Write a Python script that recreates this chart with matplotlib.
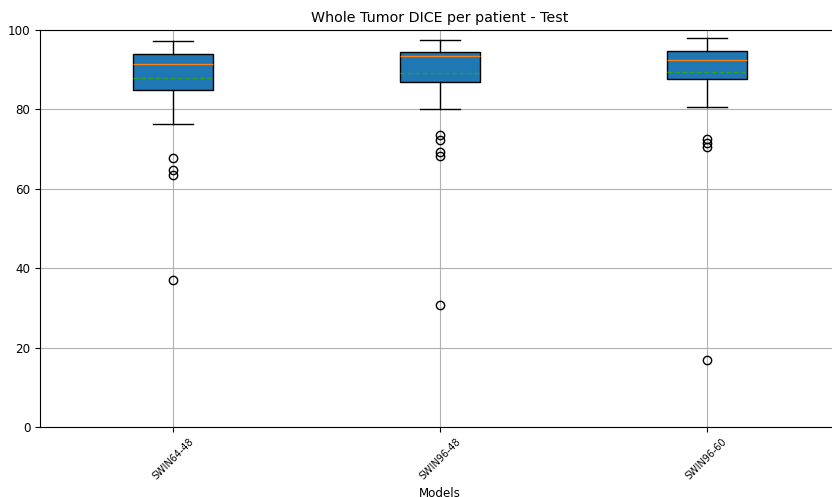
import matplotlib
matplotlib.use("Agg")
import matplotlib.pyplot as plt

models = ["SWIN64-48", "SWIN96-48", "SWIN96-60"]

# box statistics
q1 = [84.9, 86.9, 87.7]
medians = [91.4, 93.5, 92.4]
q3 = [94.0, 94.5, 94.8]
means = [88.0, 89.2, 89.3]
whisker_low = [76.3, 80.1, 80.7]
whisker_high = [97.2, 97.6, 97.9]
outliers = [
    [67.8, 64.7, 63.5, 37.0],
    [73.6, 72.3, 69.3, 68.3, 30.7],
    [72.5, 71.5, 70.5, 16.9],
]

stats = []
for i, name in enumerate(models):
    stats.append({
        "label": name,
        "q1": q1[i],
        "med": medians[i],
        "q3": q3[i],
        "mean": means[i],
        "whislo": whisker_low[i],
        "whishi": whisker_high[i],
        "fliers": outliers[i],
    })

plt.rcParams["font.size"] = 8.6

fig = plt.figure(figsize=(8.32, 4.97), dpi=100)
ax = fig.add_axes([40 / 832, 70 / 497, 800 / 832, 397 / 497])

ax.bxp(stats, widths=0.3, patch_artist=True, showmeans=True, meanline=True,
       boxprops=dict(facecolor="#1f77b4", edgecolor="black"),
       medianprops=dict(color="#ff7f0e"),
       meanprops=dict(color="#2ca02c", linestyle="--"))

ax.set_ylim(0, 100)
ax.grid(True)
ax.set_title("Whole Tumor DICE per patient - Test", fontsize=10.3)
ax.set_xlabel("Models")
plt.setp(ax.get_xticklabels(), rotation=45, fontsize=6.9)

fig.savefig("out.png", dpi=100)
